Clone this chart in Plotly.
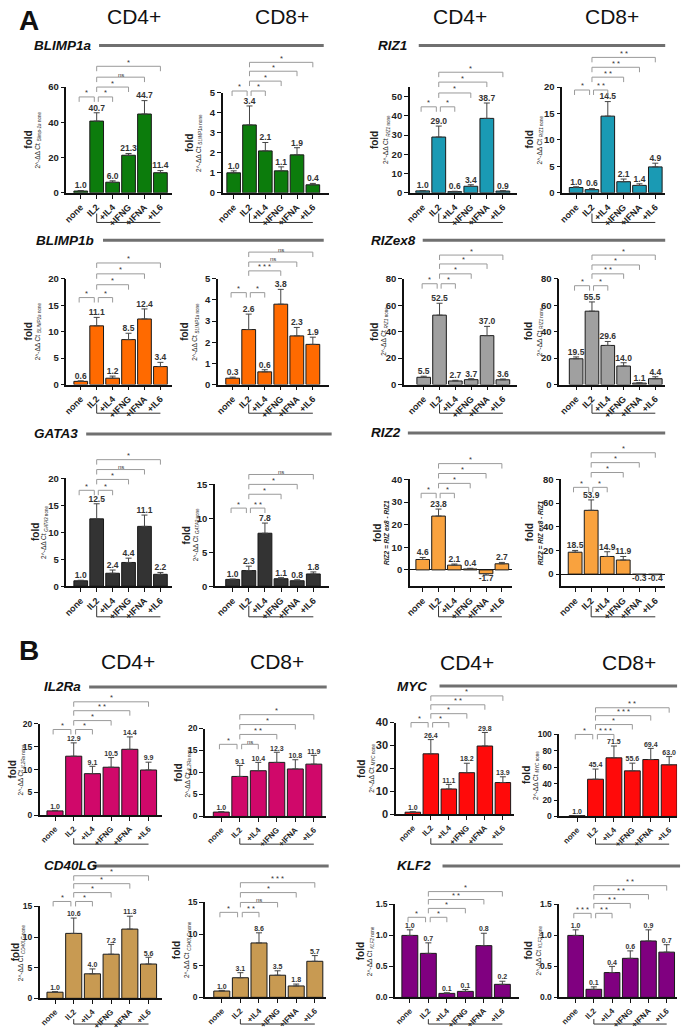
import plotly.graph_objects as go

W, H = 685, 1033
FONT = "Arial, Liberation Sans, sans-serif"

conditions = ["none", "IL2", "+IL4", "+IFNG", "+IFNA", "+IL6"]
comparisons = [(0, 1), (1, 2), (1, 3), (1, 4), (1, 5)]

# ---------------- panel A ----------------
blimp1a_cd4 = [1.0, 40.7, 6.0, 21.3, 44.7, 11.4]
blimp1a_cd4_err = [0.3, 4.7, 0.8, 1.0, 7.6, 1.2]
blimp1a_cd4_sig = ["*", "*", "*", "ns", "*"]

blimp1a_cd8 = [1.0, 3.4, 2.1, 1.1, 1.9, 0.4]
blimp1a_cd8_err = [0.1, 0.95, 0.42, 0.2, 0.36, 0.07]
blimp1a_cd8_sig = ["*", "*", "*", "*", "*"]

riz1_cd4 = [1.0, 29.0, 0.6, 3.4, 38.7, 0.9]
riz1_cd4_err = [0.2, 5.7, 0.2, 0.8, 8.0, 0.2]
riz1_cd4_sig = ["*", "*", "*", "*", "*"]

riz1_cd8 = [1.0, 0.6, 14.5, 2.1, 1.4, 4.9]
riz1_cd8_err = [0.15, 0.2, 2.75, 0.5, 0.3, 0.7]
riz1_cd8_sig = ["*", "**", "**", "**", "**"]

blimp1b_cd4 = [0.6, 11.1, 1.2, 8.5, 12.4, 3.4]
blimp1b_cd4_err = [0.1, 1.6, 0.4, 1.2, 1.9, 0.8]
blimp1b_cd4_sig = ["*", "*", "*", "*", "*"]

blimp1b_cd8 = [0.3, 2.6, 0.6, 3.8, 2.3, 1.9]
blimp1b_cd8_err = [0.05, 0.73, 0.1, 0.7, 0.4, 0.34]
blimp1b_cd8_sig = ["*", "*", "***", "ns", "ns"]

rizex8_cd4 = [5.5, 52.5, 2.7, 3.7, 37.0, 3.6]
rizex8_cd4_err = [0.8, 9.0, 0.5, 0.7, 7.0, 0.6]
rizex8_cd4_sig = ["*", "*", "*", "*", "*"]

rizex8_cd8 = [19.5, 55.5, 29.6, 14.0, 1.1, 4.4]
rizex8_cd8_err = [1.4, 7.0, 3.0, 2.5, 0.3, 1.5]
rizex8_cd8_sig = ["*", "*", "**", "*", "*"]

gata3_cd4 = [1.0, 12.5, 2.4, 4.4, 11.1, 2.2]
gata3_cd4_err = [0.1, 2.8, 0.6, 0.8, 2.1, 0.35]
gata3_cd4_sig = ["*", "*", "*", "ns", "*"]

gata3_cd8 = [1.0, 2.3, 7.8, 1.1, 0.8, 1.8]
gata3_cd8_err = [0.05, 0.65, 1.5, 0.15, 0.15, 0.3]
gata3_cd8_sig = ["*", "**", "*", "*", "ns"]

riz2_cd4 = [4.6, 23.8, 2.1, 0.4, -1.7, 2.7]
riz2_cd4_err = [0.9, 3.1, 0.5, 0.3, 0.6, 0.6]
riz2_cd4_sig = ["*", "*", "*", "*", "*"]

riz2_cd8 = [18.5, 53.9, 14.9, 11.9, -0.3, -0.4]
riz2_cd8_err = [1.5, 8.8, 4.0, 3.0, 0.1, 0.1]
riz2_cd8_sig = ["*", "*", "*", "*", "*"]

# ---------------- panel B ----------------
il2ra_cd4 = [1.0, 12.9, 9.1, 10.5, 14.4, 9.9]
il2ra_cd4_err = [0.1, 2.9, 1.6, 2.1, 2.7, 1.7]
il2ra_cd4_sig = ["*", "*", "*", "**", "*"]

il2ra_cd8 = [1.0, 9.1, 10.4, 12.3, 10.8, 11.9]
il2ra_cd8_err = [0.1, 2.5, 1.9, 2.3, 2.1, 2.0]
il2ra_cd8_sig = ["*", "ns", "**", "*", "*"]

myc_cd4 = [1.0, 26.4, 11.1, 18.2, 29.8, 13.9]
myc_cd4_err = [0.2, 6.2, 2.0, 4.1, 5.9, 2.5]
myc_cd4_sig = ["*", "*", "*", "**", "*"]

myc_cd8 = [1.0, 45.4, 71.5, 55.6, 69.4, 63.0]
myc_cd8_err = [0.2, 12.4, 14.4, 9.4, 13.6, 10.0]
myc_cd8_sig = ["*", "***", "*", "***", "**"]

cd40lg_cd4 = [1.0, 10.6, 4.0, 7.2, 11.3, 5.6]
cd40lg_cd4_err = [0.1, 2.5, 0.8, 1.6, 2.1, 1.1]
cd40lg_cd4_sig = ["*", "*", "*", "*", "*"]

cd40lg_cd8 = [1.0, 3.1, 8.6, 3.5, 1.8, 5.7]
cd40lg_cd8_err = [0.1, 0.8, 1.6, 0.7, 0.3, 0.9]
cd40lg_cd8_sig = ["*", "**", "ns", "*", "***"]

klf2_cd4 = [1.0, 0.71, 0.064, 0.096, 0.835, 0.21]
klf2_cd4_err = [0.09, 0.17, 0.01, 0.03, 0.2, 0.05]
klf2_cd4_sig = ["*", "*", "*", "**", "*"]

klf2_cd8 = [1.0, 0.13, 0.40, 0.63, 0.91, 0.73]
klf2_cd8_err = [0.09, 0.04, 0.1, 0.12, 0.18, 0.12]
klf2_cd8_sig = ["***", "**", "**", "**", "**"]

SUB = "2^-ΔΔ Ct <sub><i>{}</i> none</sub>"

# layout of every small chart (pixel positions in the 685x1033 page)
A = dict(xf=9, yf=9.5, lf=8.5)
B = dict(xf=8, yf=8.5, lf=7)
charts = [
    dict(v=blimp1a_cd4, e=blimp1a_cd4_err, s=blimp1a_cd4_sig, c="#0c7c0c", lab=SUB.format("Blimp-1a"),
         ax=60, c0=74.5, sp=16.1, end=167, ytop=82, ybot=189, ymin=0, ymax=60, dt=20,
         lv=[92, 82, 72, 61], low=219, leg=9, fo=38, so=29, **A),
    dict(v=blimp1a_cd8, e=blimp1a_cd8_err, s=blimp1a_cd8_sig, c="#0c7c0c", lab=SUB.format("BLIMP1a"),
         ax=218, c0=229, sp=16, end=325, ytop=88, ybot=189, ymin=0, ymax=5, dt=1,
         lv=[86, 76, 66, 57], low=219, leg=9, fo=33, so=24, **A),
    dict(v=riz1_cd4, e=riz1_cd4_err, s=riz1_cd4_sig, c="#1a9ab4", lab=SUB.format("RIZ1"),
         ax=407, c0=420, sp=16.2, end=515, ytop=82, ybot=189, ymin=0, ymax=55, dt=10,
         lv=[102, 88, 77, 67], low=219, leg=9, fo=35, so=24, **A),
    dict(v=riz1_cd8, e=riz1_cd8_err, s=riz1_cd8_sig, c="#1a9ab4", lab=SUB.format("RIZ1"),
         ax=561, c0=575, sp=16, end=665, ytop=82, ybot=189, ymin=0, ymax=20, dt=5,
         lv=[85, 72, 62, 52], low=219, leg=9, fo=33, so=23, **A),
    dict(v=blimp1b_cd4, e=blimp1b_cd4_err, s=blimp1b_cd4_sig, c="#ff6a00", lab=SUB.format("BLIMP1a"),
         ax=60, c0=74.5, sp=16.1, end=167, ytop=276, ybot=383, ymin=0, ymax=20, dt=5,
         lv=[295, 282, 271, 260], low=412, leg=9, fo=38, so=29, **A),
    dict(v=blimp1b_cd8, e=blimp1b_cd8_err, s=blimp1b_cd8_sig, c="#ff6a00", lab=SUB.format("BLIMP1a"),
         ax=213, c0=228, sp=16.2, end=325, ytop=276, ybot=383, ymin=0, ymax=5, dt=1,
         lv=[290, 268, 259, 249], low=412, leg=9, fo=33, so=23, **A),
    dict(v=rizex8_cd4, e=rizex8_cd4_err, s=rizex8_cd4_sig, c="#a0a0a0", lab=SUB.format("RIZ1"),
         ax=401, c0=421, sp=16, end=515, ytop=276, ybot=383, ymin=0, ymax=80, dt=20,
         lv=[281, 271, 261, 252], low=412, leg=9, fo=30, so=20, **A),
    dict(v=rizex8_cd8, e=rizex8_cd8_err, s=rizex8_cd8_sig, c="#a0a0a0", lab=SUB.format("RIZ1"),
         ax=558, c0=575, sp=16, end=665, ytop=276, ybot=383, ymin=0, ymax=80, dt=20,
         lv=[283, 271, 262, 252], low=412, leg=9, fo=31, so=20, **A),
    dict(v=gata3_cd4, e=gata3_cd4_err, s=gata3_cd4_sig, c="#333333", lab=SUB.format("GATA3"),
         ax=60, c0=74.5, sp=16.1, end=167, ytop=478, ybot=587, ymin=0, ymax=20, dt=5,
         lv=[490, 479, 469, 459], low=618, leg=11, fo=31, so=22, **A),
    dict(v=gata3_cd8, e=gata3_cd8_err, s=gata3_cd8_sig, c="#333333", lab=SUB.format("GATA3"),
         ax=210, c0=228, sp=16.3, end=325, ytop=484, ybot=587, ymin=0, ymax=15, dt=5,
         lv=[508, 494, 484, 474], low=618, leg=11, fo=29, so=19, **A),
    dict(v=riz2_cd4, e=riz2_cd4_err, s=riz2_cd4_sig, c="#f9a23e",
         lab="<b><i>RIZ2 = RIZ ex8 - RIZ1</i></b>",
         ax=407, c0=420, sp=16, end=510, ytop=479, ybot=587, ymin=-7.2, ymax=40, dt=10,
         lv=[493, 483, 473, 463], low=618, leg=11, fo=32, so=23, **A),
    dict(v=riz2_cd8, e=riz2_cd8_err, s=riz2_cd8_sig, c="#f9a23e",
         lab="<b><i>RIZ2 = RIZ ex8 - RIZ1</i></b>",
         ax=560, c0=574, sp=16.2, end=665, ytop=479, ybot=587, ymin=-10.2, ymax=80, dt=20,
         lv=[487, 472, 462, 452], low=618, leg=11, fo=32, so=21, **A),
    dict(v=il2ra_cd4, e=il2ra_cd4_err, s=il2ra_cd4_sig, c="#d0086a", lab=SUB.format("IL2Ra"),
         ax=33, c0=48.5, sp=18.9, end=157, ytop=726, ybot=819, ymin=0, ymax=20, dt=5,
         lv=[732, 723, 713, 704], low=848, leg=6, fo=27, so=19, **B),
    dict(v=il2ra_cd8, e=il2ra_cd8_err, s=il2ra_cd8_sig, c="#d0086a", lab=SUB.format("IL2Ra"),
         ax=200, c0=216.5, sp=18.7, end=322, ytop=731, ybot=820, ymin=0, ymax=20, dt=5,
         lv=[747, 737, 727, 717], low=848, leg=6, fo=27, so=17, **B),
    dict(v=myc_cd4, e=myc_cd4_err, s=myc_cd4_sig, c="#ff0a0a", lab=SUB.format("MYC"),
         ax=393, c0=410, sp=18.2, end=512, ytop=725, ybot=818, ymin=0, ymax=40, dt=10,
         lv=[725, 716, 707, 698], low=848, leg=6, fo=35, so=25, xf=8, yf=11, lf=7),
    dict(v=myc_cd8, e=myc_cd8_err, s=myc_cd8_sig, c="#ff0a0a", lab=SUB.format("MYC"),
         ax=558, c0=576, sp=18.6, end=677, ytop=737, ybot=820, ymin=0, ymax=100, dt=20,
         lv=[737, 727, 718, 710], low=848, leg=6, fo=33, so=23, **B),
    dict(v=cd40lg_cd4, e=cd40lg_cd4_err, s=cd40lg_cd4_sig, c="#c89a52", lab=SUB.format("CD40LG"),
         ax=33, c0=48.5, sp=18.9, end=157, ytop=911, ybot=1004, ymin=0, ymax=15, dt=5,
         lv=[906, 897, 888, 880], low=1030, leg=5, fo=25, so=18, **B),
    dict(v=cd40lg_cd8, e=cd40lg_cd8_err, s=cd40lg_cd8_sig, c="#c89a52", lab=SUB.format("CD40LG"),
         ax=200, c0=217, sp=18.8, end=322, ytop=907, ybot=1003, ymin=0, ymax=15, dt=5,
         lv=[917, 907, 897, 887], low=1030, leg=5, fo=28, so=18, **B),
    dict(v=klf2_cd4, e=klf2_cd4_err, s=klf2_cd4_sig, c="#800080", lab=SUB.format("KLF2"),
         ax=392, c0=407, sp=18.7, end=517, ytop=909, ybot=1003, ymin=0, ymax=1.5, dt=0.5,
         lv=[922, 913, 904, 896], low=1030, leg=5, fo=34, so=25, tf=".1f", **B),
    dict(v=klf2_cd8, e=klf2_cd8_err, s=klf2_cd8_sig, c="#800080", lab=SUB.format("KLF2"),
         ax=558, c0=574.5, sp=18.4, end=677, ytop=909, ybot=1003, ymin=0, ymax=1.5, dt=0.5,
         lv=[918, 908, 899, 890], low=1030, leg=5, fo=31, so=21, tf=".1f", **B),
]

# gene name headers: name, label x, y, line start, line end
genes = [
    ("BLIMP1a", 25, 40, 93, 320), ("RIZ1", 373, 40, 416, 665),
    ("BLIMP1b", 27, 237, 97, 320), ("RIZex8", 366, 237, 420, 665),
    ("GATA3", 25, 433, 80, 328), ("RIZ2", 366, 432, 405, 665),
    ("IL2Ra", 35, 689, 83, 323), ("MYC", 392, 688, 437, 677),
    ("CD40LG", 35, 870, 87, 325), ("KLF2", 392, 870, 440, 680),
]
headers = [
    ("<b>A</b>", 22, 15, 28), ("CD4+", 128, 11, 21), ("CD8+", 278, 11, 21),
    ("CD4+", 458, 11, 21), ("CD8+", 611, 11, 21),
    ("<b>B</b>", 22, 652, 28), ("CD4+", 122, 663, 21), ("CD8+", 273, 663, 21),
    ("CD4+", 465, 664, 21), ("CD8+", 628, 664, 21),
]


def fx(p):
    return p / W


def fy(p):
    return 1 - p / H


fig = go.Figure()
layout = {}
shapes, annotations = [], []

for k, ch in enumerate(charts, start=1):
    xa = "x" if k == 1 else f"x{k}"
    ya = "y" if k == 1 else f"y{k}"
    idx = list(range(len(ch["v"])))
    up = [e if v >= 0 else 0 for v, e in zip(ch["v"], ch["e"])]
    dn = [0 if v >= 0 else e for v, e in zip(ch["v"], ch["e"])]

    fig.add_trace(go.Bar(
        x=idx, y=ch["v"], width=0.86, xaxis=xa, yaxis=ya, showlegend=False,
        marker=dict(color=ch["c"], line=dict(color="#1a1a1a", width=1)),
        error_y=dict(type="data", symmetric=False, array=up, arrayminus=dn,
                     color="#444444", thickness=1, width=3),
    ))
    ty = [v + e if v >= 0 else v - e for v, e in zip(ch["v"], ch["e"])]
    fig.add_trace(go.Scatter(
        x=idx, y=ty, mode="text", xaxis=xa, yaxis=ya, showlegend=False, cliponaxis=False,
        text=[f"<b>{v:.1f}</b>" for v in ch["v"]],
        textposition=["top center" if v >= 0 else "bottom center" for v in ch["v"]],
        textfont=dict(size=ch["lf"], color="#333333", family=FONT),
    ))

    xr0 = -(ch["c0"] - ch["ax"]) / ch["sp"]
    xr1 = (ch["end"] - ch["c0"]) / ch["sp"]
    layout["xaxis" if k == 1 else f"xaxis{k}"] = dict(
        domain=[fx(ch["ax"]), fx(ch["end"])], range=[xr0, xr1], anchor=ya,
        tickvals=idx, ticktext=conditions, tickangle=-45,
        ticks="outside", ticklen=4, tickwidth=1.2, tickcolor="#111",
        tickfont=dict(size=ch["xf"], family=FONT, color="#222", weight="bold"),
        showline=True, linecolor="#111", linewidth=1.5,
        showgrid=False, zeroline=False, fixedrange=True)
    layout["yaxis" if k == 1 else f"yaxis{k}"] = dict(
        domain=[fy(ch["ybot"]), fy(ch["ytop"])], range=[ch["ymin"], ch["ymax"]], anchor=xa,
        tick0=0, dtick=ch["dt"], tickformat=ch.get("tf", ""),
        ticks="outside", ticklen=4, tickwidth=1.2, tickcolor="#111",
        tickfont=dict(size=ch["yf"], family=FONT, color="#222", weight="bold"),
        showline=True, linecolor="#111", linewidth=1.5, showgrid=False,
        zeroline=ch["ymin"] < 0, zerolinecolor="#111", zerolinewidth=1.2, fixedrange=True)

    def bx(i, ch=ch):
        return fx(ch["c0"] + i * ch["sp"])

    # significance brackets
    levels = [ch["lv"][0], ch["lv"][0], ch["lv"][1], ch["lv"][2], ch["lv"][3]]
    for j, ((a, b), lab) in enumerate(zip(comparisons, ch["s"])):
        if j == 0:
            a0, b0 = a - 0.1, b - 0.15
        elif j == 1:
            a0, b0 = a + 0.1, b
        else:
            a0, b0 = a, b
        yl = levels[j]
        shapes.append(dict(
            type="path", xref="paper", yref="paper",
            path=f"M{bx(a0)},{fy(yl + 5)} L{bx(a0)},{fy(yl)} L{bx(b0)},{fy(yl)} L{bx(b0)},{fy(yl + 5)}",
            line=dict(color="#9a9a9a", width=1)))
        annotations.append(dict(
            x=(bx(a0) + bx(b0)) / 2, y=fy(yl + 2.5), xref="paper", yref="paper",
            xanchor="center", yanchor="bottom",
            text=" ".join(lab) if lab != "ns" else "ns", showarrow=False,
            font=dict(size=7.5 if lab != "ns" else 6, color="#333", family=FONT)))

    # IL2 + cytokine bracket under tick labels
    shapes.append(dict(
        type="path", xref="paper", yref="paper",
        path=f"M{bx(1)},{fy(ch['low'] - ch['leg'])} L{bx(1)},{fy(ch['low'])} L{bx(5)},{fy(ch['low'])}",
        line=dict(color="#333", width=1)))

    # y titles
    ymid = fy((ch["ytop"] + ch["ybot"]) / 2)
    annotations.append(dict(
        x=fx(ch["ax"] - ch["fo"]), y=ymid, xref="paper", yref="paper", text="<b>fold</b>",
        xanchor="center", yanchor="middle", textangle=-90, showarrow=False,
        font=dict(size=10, color="#222", family=FONT)))
    annotations.append(dict(
        x=fx(ch["ax"] - ch["so"]), y=ymid, xref="paper", yref="paper", text=ch["lab"],
        xanchor="center", yanchor="middle", textangle=-90, showarrow=False,
        font=dict(size=6.5, color="#222", family=FONT)))

for name, lx, ly, l0, l1 in genes:
    annotations.append(dict(
        x=fx(lx), y=fy(ly), xref="paper", yref="paper", xanchor="left", yanchor="middle",
        text=f"<b><i>{name}</i></b>", showarrow=False, font=dict(size=13.5, color="#111", family=FONT)))
    shapes.append(dict(type="line", xref="paper", yref="paper", x0=fx(l0), x1=fx(l1),
                       y0=fy(ly), y1=fy(ly), line=dict(color="#707070", width=3)))

for text, hx, hy, size in headers:
    annotations.append(dict(
        x=fx(hx), y=fy(hy), xref="paper", yref="paper", xanchor="center", yanchor="middle",
        text=text, showarrow=False, font=dict(size=size, color="#111", family=FONT)))

fig.update_layout(
    width=W, height=H, margin=dict(l=0, r=0, t=0, b=0),
    paper_bgcolor="white", plot_bgcolor="white",
    font=dict(family=FONT), bargap=0.1,
    shapes=shapes, annotations=annotations, **layout)

# the page's default body margin would shift the whole figure by 8 px
fig.write_html("out.html", config={"displayModeBar": False},
               post_script="document.body.style.margin='0';")
